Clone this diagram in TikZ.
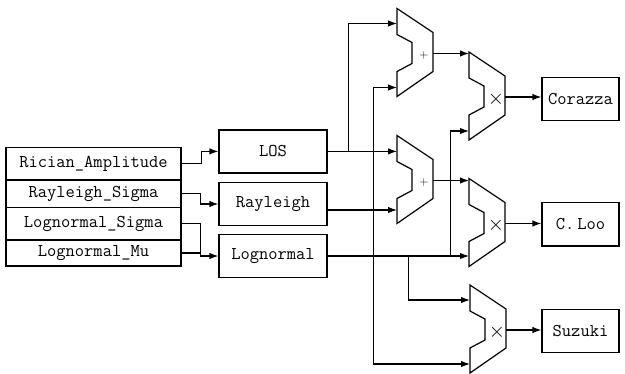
\documentclass[tikz,border=0pt]{standalone}
\usepackage{tikz}
\usetikzlibrary{arrows.meta}
\tikzset{every picture/.style={line width=1.2pt}}
\tikzset{
  blk/.style={draw, minimum width=108pt, minimum height=43pt, inner sep=0pt, font=\ttfamily\fontsize{18}{20}\selectfont},
  outblk/.style={draw, minimum width=77pt, minimum height=43.5pt, inner sep=0pt, font=\ttfamily\fontsize{18}{20}\selectfont},
  inrow/.style={draw, minimum width=175pt, inner sep=0pt, font=\ttfamily\fontsize{18}{20}\selectfont},
  pics/alu/.style={code={
    \draw (0,0) -- ++(36,24) -- ++(0,39) -- ++(-36,25) -- ++(0,-25) -- ++(15,-8) -- ++(0,-21) -- ++(-15,-8) -- cycle;
    \coordinate (-nw) at (0,0);
    \coordinate (-in1) at (0,15);
    \coordinate (-in2) at (0,79);
    \coordinate (-out) at (36,45);
    \node[inner sep=0pt, font=\fontsize{13}{13}\selectfont] at (27,47) {#1};
  }}
}

\begin{document}
\begin{tikzpicture}[x=1pt,y=-1pt,>={Latex[length=9pt,width=6.5pt]}]
\useasboundingbox (0,0) rectangle (625,373);

%Shape: Rectangle (inputs)
\node[inrow, minimum height=32.7pt] (rician) at (93.5,163.65) {Rician\_Amplitude};
\node[inrow, minimum height=27.7pt] (raysig) at (93.5,193.85) {Rayleigh\_Sigma};
\node[inrow, minimum height=32.3pt] (lnsig) at (93.5,223.85) {Lognormal\_Sigma};
\node[inrow, minimum height=26pt] (lnmu) at (93.5,253) {Lognormal\_Mu};

%Shape: Rectangle (generators)
\node[blk] (los) at (273,151.4) {LOS};
\node[blk] (rayleigh) at (273,204) {Rayleigh};
\node[blk] (lognormal) at (273,256) {Lognormal};

%Shape: Rectangle (outputs)
\node[outblk] (corazza) at (580.5,99) {Corazza};
\node[outblk] (cloo) at (580.5,224.3) {C.\,Loo};
\node[outblk] (suzuki) at (580.5,331) {Suzuki};

%Shape: ALU
\pic (add1) at (397,8.5) {alu={$+$}};
\pic (add2) at (397,135.5) {alu={$+$}};
\pic (mul1) at (469,52) {alu={\fontsize{22}{22}\selectfont$\times$}};
\pic (mul2) at (469,178.5) {alu={\fontsize{22}{22}\selectfont$\times$}};
\pic (mul3) at (470,285) {alu={\fontsize{22}{22}\selectfont$\times$}};

%Straight Lines (inputs to generators)
\draw[->] (rician.east) -- ++(20,0) |- (los.west);
\draw[->] (raysig.east) -- ++(19,0) |- (rayleigh.west);
\draw[->] (lnsig.east) -- ++(19,0) |- (lognormal.west);
\draw (lnmu.east) -- ++(19,0);

%Straight Lines (LOS)
\coordinate (losbr) at ([xshift=21pt]los.east);
\draw[->] (los.east) -- (add2-nw |- los.east);
\draw[->] (losbr) |- (add1-in1);

%Straight Lines (Rayleigh)
\coordinate (rayout) at ([yshift=-6pt]rayleigh.east);
\coordinate (raybr) at ([xshift=46pt]rayout);
\draw[->] (rayout) -- (add2-nw |- rayout);
\draw[->] (raybr) |- (add1-in2);
\draw[->] (raybr) |- (mul3-in2);

%Straight Lines (Lognormal)
\coordinate (lnbrA) at ([xshift=81pt]lognormal.east);
\coordinate (lnbrB) at ([xshift=123pt]lognormal.east);
\draw[->] (lognormal.east) -- (mul2-nw |- lognormal.east);
\draw[->] (lnbrA) |- (mul3-in1);
\draw[->] (lnbrB) |- (mul1-in2);

%Straight Lines (sums)
\draw[->] (add1-out) -- (mul1-nw |- add1-out);
\draw[->] (add2-out) -- (mul2-nw |- add2-out);

%Straight Lines (outputs)
\draw[->] (mul1-out) -- (corazza.west |- mul1-out);
\draw[->] (mul2-out) -- (cloo.west |- mul2-out);
\draw[->] (mul3-out) -- (suzuki.west |- mul3-out);
\end{tikzpicture}
\end{document}
